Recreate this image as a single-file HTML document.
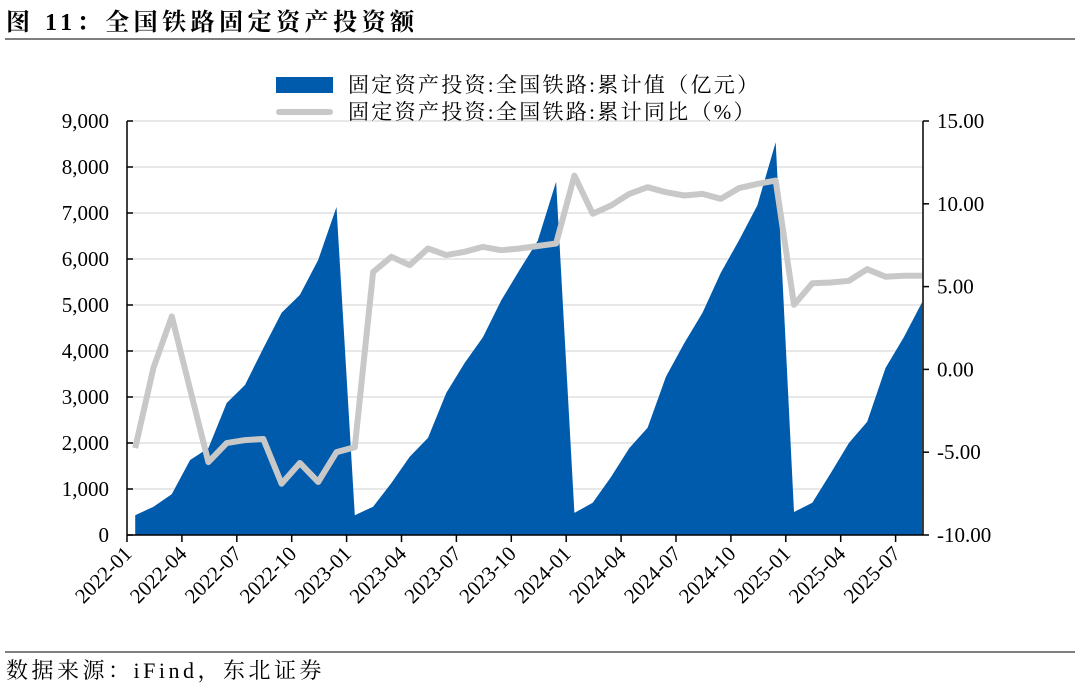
<!DOCTYPE html>
<html><head><meta charset="utf-8"><style>
body{margin:0;background:#fff;}
svg text{font-family:"Liberation Serif","Noto Serif CJK SC",serif;fill:#000;}
</style></head><body>
<svg width="1080" height="688" viewBox="0 0 1080 688" xmlns="http://www.w3.org/2000/svg">
<text x="6" y="30" font-size="24" font-weight="bold" letter-spacing="4.5">图 11：全国铁路固定资产投资额</text>
<line x1="5" y1="39" x2="1075" y2="39" stroke="#555" stroke-width="1.5"/>
<g id="grid"></g>
<g id="area"></g>
<g id="line"></g>
<g id="axes"></g>
<rect x="276" y="77" width="57" height="16" fill="#005bac"/>
<text x="348" y="92" font-size="21" letter-spacing="2.3">固定资产投资:全国铁路:累计值（亿元）</text>
<line x1="279" y1="112" x2="330" y2="112" stroke="#c8c8c8" stroke-width="6" stroke-linecap="round"/>
<text x="348" y="119" font-size="21" letter-spacing="2.3">固定资产投资:全国铁路:累计同比（%）</text>
<line x1="5" y1="652" x2="1075" y2="652" stroke="#555" stroke-width="1.5"/>
<text x="6" y="678" font-size="22" letter-spacing="3.5">数据来源：iFind，东北证券</text>
</svg>
<script>
const months=["2022-01","2022-02","2022-03","2022-04","2022-05","2022-06","2022-07","2022-08","2022-09","2022-10","2022-11","2022-12","2023-01","2023-02","2023-03","2023-04","2023-05","2023-06","2023-07","2023-08","2023-09","2023-10","2023-11","2023-12","2024-01","2024-02","2024-03","2024-04","2024-05","2024-06","2024-07","2024-08","2024-09","2024-10","2024-11","2024-12","2025-01","2025-02","2025-03","2025-04","2025-05","2025-06","2025-07","2025-08"];
const cumValue=[430,615,890,1630,1890,2870,3260,4060,4830,5220,5980,7130,430,615,1130,1700,2110,3090,3740,4300,5100,5760,6400,7680,480,700,1260,1890,2330,3440,4170,4830,5700,6410,7170,8540,500,700,1340,2000,2460,3630,4300,5060];
const yoyValue=[-4.75,0.1,3.2,-1.2,-5.6,-4.45,-4.27,-4.2,-6.9,-5.65,-6.8,-5.0,-4.7,5.88,6.8,6.3,7.3,6.9,7.1,7.4,7.2,7.3,7.45,7.6,11.7,9.4,9.9,10.6,11.0,10.7,10.5,10.6,10.3,10.95,11.2,11.4,3.9,5.2,5.25,5.35,6.05,5.6,5.65,5.65];
const leftTicks=[0,1000,2000,3000,4000,5000,6000,7000,8000,9000];
const leftTickLabels=["0","1,000","2,000","3,000","4,000","5,000","6,000","7,000","8,000","9,000"];
const rightTicks=[-10,-5,0,5,10,15];
const rightTickLabels=["-10.00","-5.00","0.00","5.00","10.00","15.00"];
const xTickLabels=["2022-01","2022-04","2022-07","2022-10","2023-01","2023-04","2023-07","2023-10","2024-01","2024-04","2024-07","2024-10","2025-01","2025-04","2025-07"];

const NS="http://www.w3.org/2000/svg";
const X0=127,X1=923,Y0=535,Y1=121,W=18.3;
const xTick=i=>X0+i*W;
const xPt=i=>X0+(i+0.45)*W;
const yL=v=>Y0-(v-0)/(9000-0)*(Y0-Y1);
const yR=v=>Y0-(v+10)/25*(Y0-Y1);
function mk(tag,attrs,parent){const e=document.createElementNS(NS,tag);for(const k in attrs)e.setAttribute(k,attrs[k]);parent.appendChild(e);return e;}
const grid=document.getElementById('grid'),area=document.getElementById('area'),line=document.getElementById('line'),axes=document.getElementById('axes');
leftTicks.forEach((v,i)=>{
  const g=mk('line',{x1:X0,x2:X1,y1:yL(v),y2:yL(v),stroke:'#d9d9d9','stroke-width':1.2},grid);
  
  
  const t=mk('line',{x1:X0,x2:X0+6,y1:yL(v),y2:yL(v),stroke:'#000','stroke-width':1.5},axes);
  
  
  const l=mk('text',{x:X0-18,y:yL(v)+7,'text-anchor':'end','font-size':21},axes);
  l.textContent=leftTickLabels[i];
  
  
});
rightTicks.forEach((v,i)=>{
  const t=mk('line',{x1:X1,x2:X1+6,y1:yR(v),y2:yR(v),stroke:'#000','stroke-width':1.5},axes);
  
  
  const l=mk('text',{x:X1+14,y:yR(v)+7,'font-size':21},axes);
  l.textContent=rightTickLabels[i];
  
  
});
let d='M'+xPt(0)+','+Y0;
cumValue.forEach((v,i)=>{d+=' L'+xPt(i).toFixed(1)+','+yL(v).toFixed(1);});
d+=' L'+xPt(cumValue.length-1).toFixed(1)+','+Y0+' Z';
const a=mk('path',{d:d,fill:'#005bac'},area);


const pts=yoyValue.map((v,i)=>xPt(i).toFixed(1)+','+yR(v).toFixed(1)).join(' ');
const pl=mk('polyline',{points:pts,fill:'none',stroke:'#c8c8c8','stroke-width':6,'stroke-linejoin':'round'},line);


const la=mk('line',{x1:X0,x2:X0,y1:Y1,y2:Y0,stroke:'#000','stroke-width':1.5},axes);


const ra=mk('line',{x1:X1,x2:X1,y1:Y1,y2:Y0,stroke:'#000','stroke-width':1.5},axes);


const xa=mk('line',{x1:X0,x2:X1,y1:Y0,y2:Y0,stroke:'#000','stroke-width':1.5},axes);


xTickLabels.forEach((s,k)=>{
  const x=xTick(k*3);
  const t=mk('line',{x1:x,x2:x,y1:Y0,y2:Y0+7,stroke:'#000','stroke-width':1.5},axes);
  
  
  const l=mk('text',{x:x+6,y:Y0+20,'text-anchor':'end','font-size':21,transform:'rotate(-45 '+(x+6)+' '+(Y0+20)+')'},axes);
  l.textContent=s;
  
  
});
</script>
</body></html>
